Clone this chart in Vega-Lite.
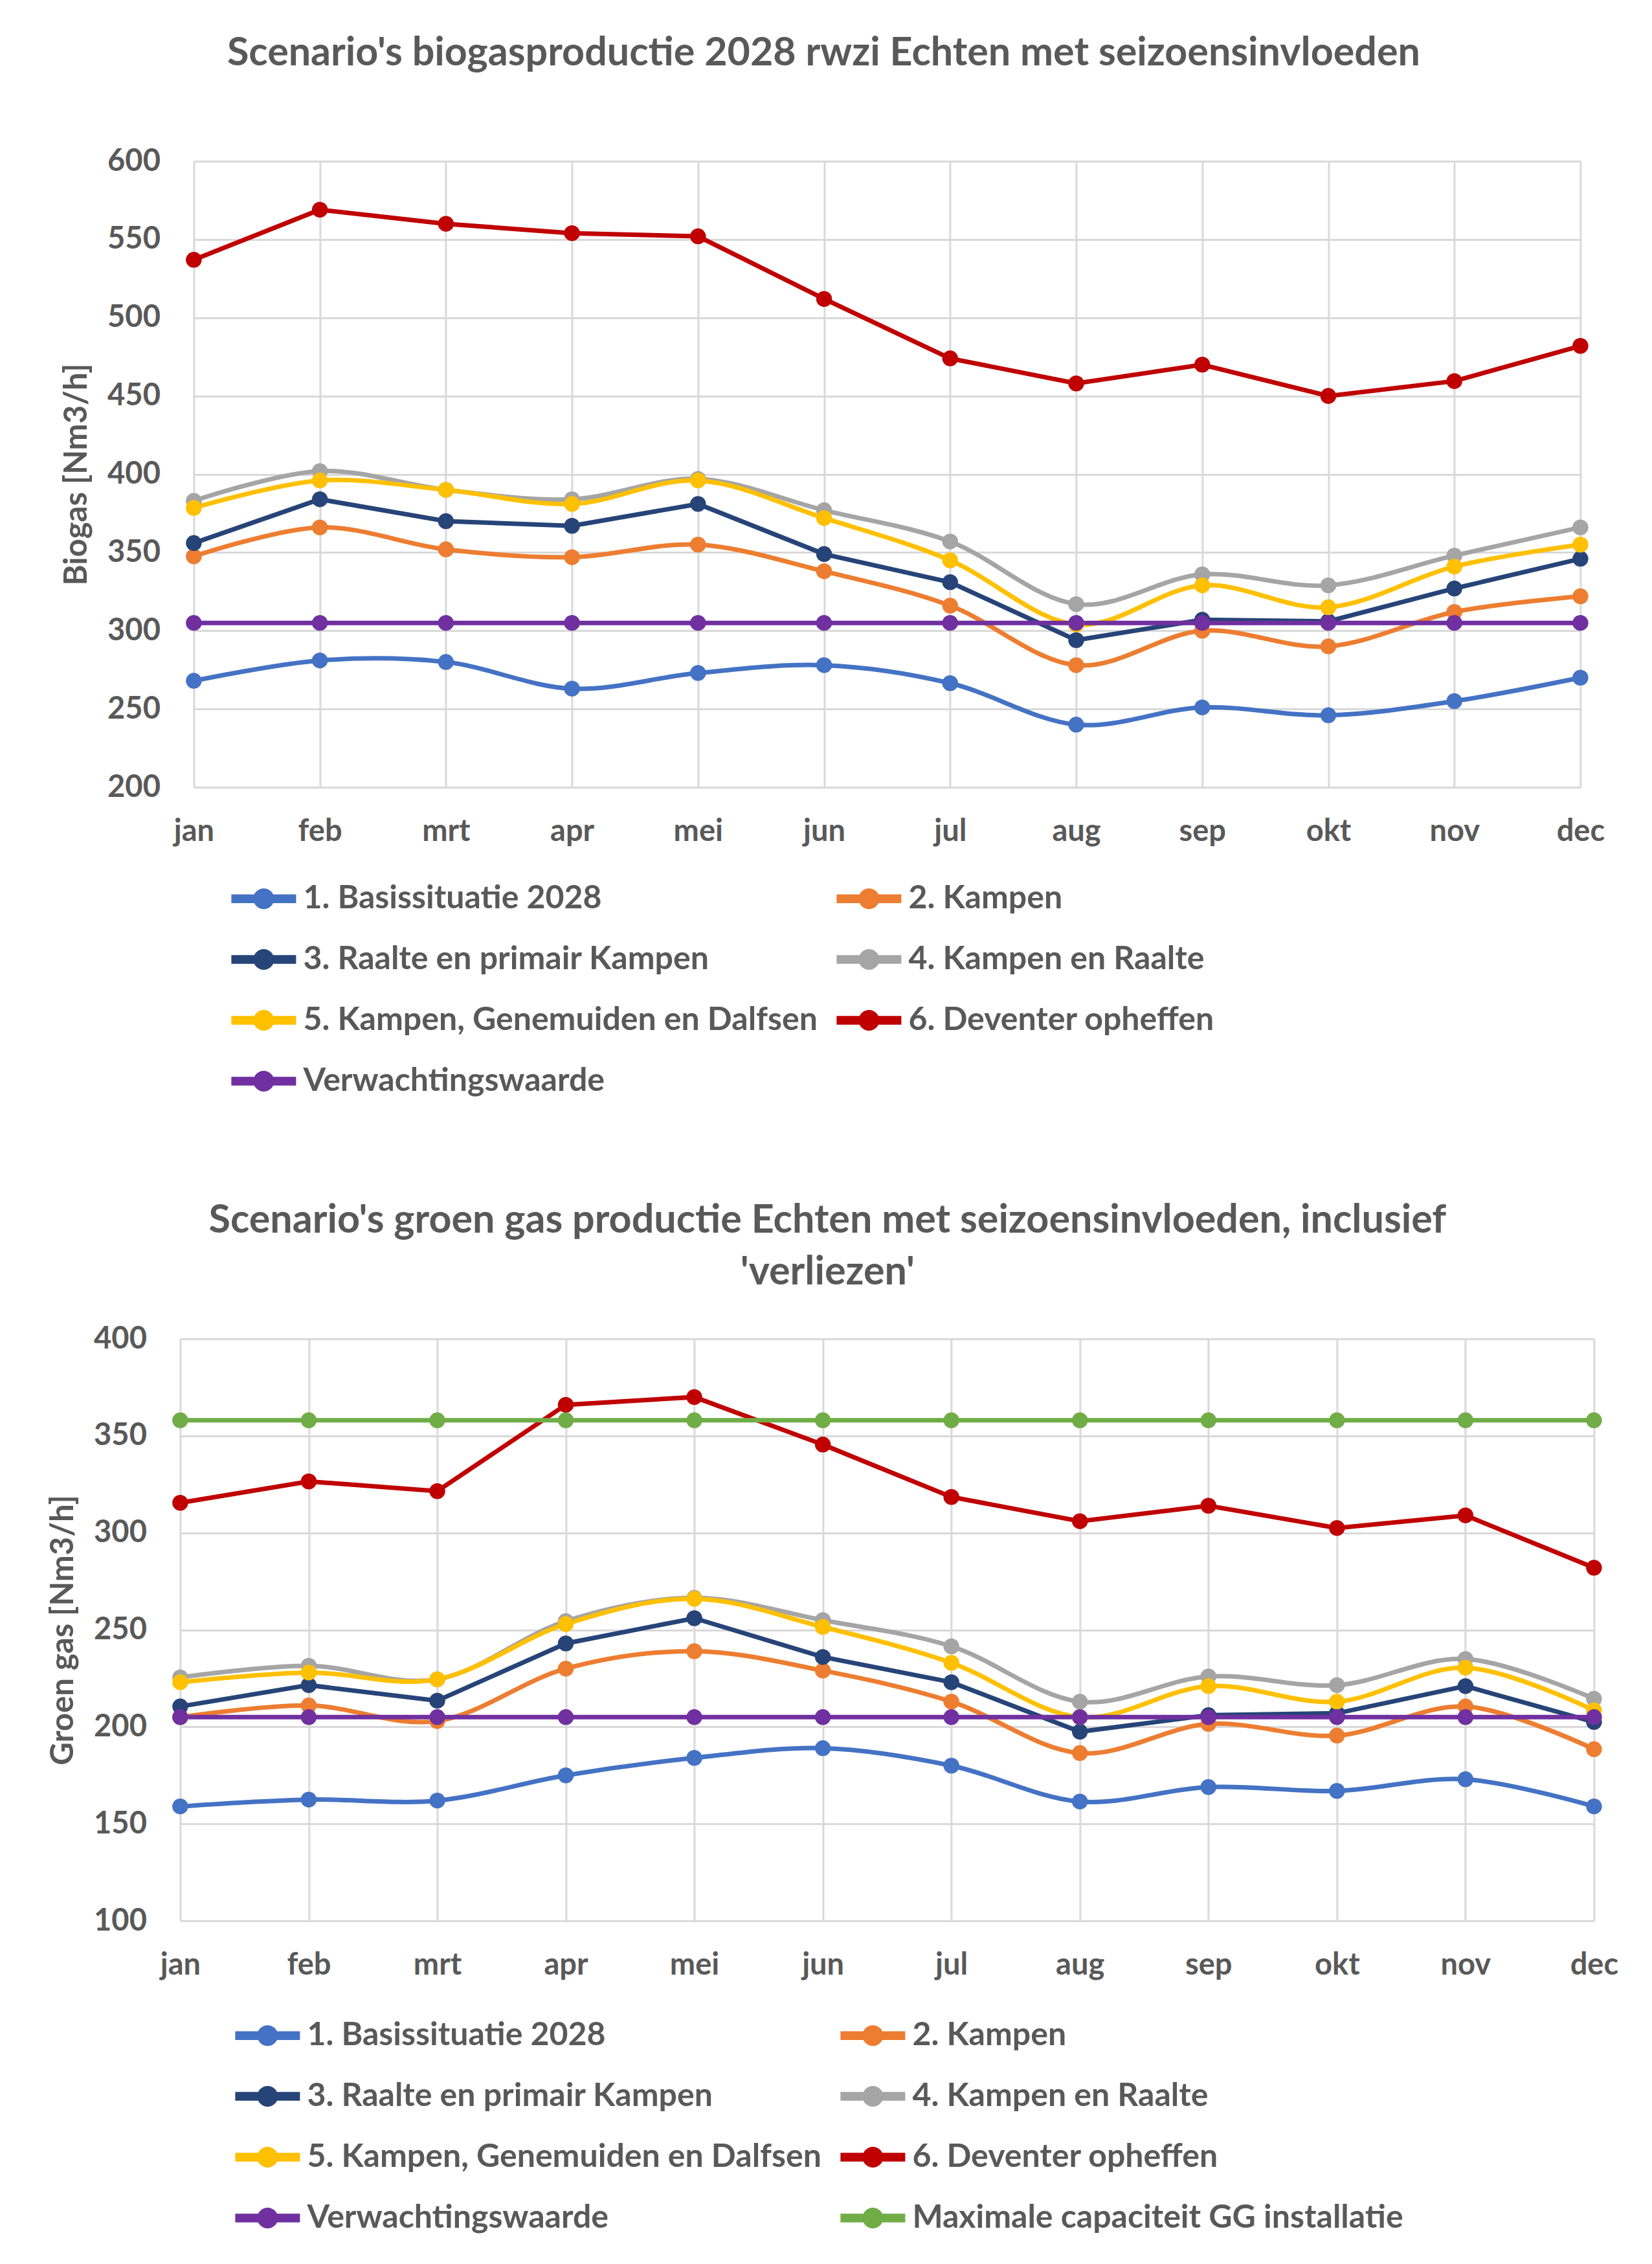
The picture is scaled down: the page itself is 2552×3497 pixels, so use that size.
{
  "$schema": "https://vega.github.io/schema/vega-lite/v6.json",
  "background": "white",
  "padding": {"left": 73, "top": 52, "right": 0, "bottom": 0},
  "spacing": 158,
  "center": true,
  "resolve": {"scale": {"color": "independent", "x": "independent", "y": "independent"}, "legend": {"color": "independent"}},
  "datasets": {
    "bio": [
      {"maand":"jan","serie":"1. Basissituatie 2028","waarde":268},{"maand":"feb","serie":"1. Basissituatie 2028","waarde":281},{"maand":"mrt","serie":"1. Basissituatie 2028","waarde":280},{"maand":"apr","serie":"1. Basissituatie 2028","waarde":263},{"maand":"mei","serie":"1. Basissituatie 2028","waarde":273},{"maand":"jun","serie":"1. Basissituatie 2028","waarde":278},{"maand":"jul","serie":"1. Basissituatie 2028","waarde":266.5},{"maand":"aug","serie":"1. Basissituatie 2028","waarde":240},{"maand":"sep","serie":"1. Basissituatie 2028","waarde":251},{"maand":"okt","serie":"1. Basissituatie 2028","waarde":246},{"maand":"nov","serie":"1. Basissituatie 2028","waarde":255},{"maand":"dec","serie":"1. Basissituatie 2028","waarde":270},
      {"maand":"jan","serie":"2. Kampen","waarde":347.5},{"maand":"feb","serie":"2. Kampen","waarde":366},{"maand":"mrt","serie":"2. Kampen","waarde":352},{"maand":"apr","serie":"2. Kampen","waarde":347},{"maand":"mei","serie":"2. Kampen","waarde":355},{"maand":"jun","serie":"2. Kampen","waarde":338},{"maand":"jul","serie":"2. Kampen","waarde":316},{"maand":"aug","serie":"2. Kampen","waarde":278},{"maand":"sep","serie":"2. Kampen","waarde":300},{"maand":"okt","serie":"2. Kampen","waarde":290},{"maand":"nov","serie":"2. Kampen","waarde":312},{"maand":"dec","serie":"2. Kampen","waarde":322},
      {"maand":"jan","serie":"3. Raalte en primair Kampen","waarde":356},{"maand":"feb","serie":"3. Raalte en primair Kampen","waarde":384},{"maand":"mrt","serie":"3. Raalte en primair Kampen","waarde":370},{"maand":"apr","serie":"3. Raalte en primair Kampen","waarde":367},{"maand":"mei","serie":"3. Raalte en primair Kampen","waarde":381},{"maand":"jun","serie":"3. Raalte en primair Kampen","waarde":349},{"maand":"jul","serie":"3. Raalte en primair Kampen","waarde":331},{"maand":"aug","serie":"3. Raalte en primair Kampen","waarde":294},{"maand":"sep","serie":"3. Raalte en primair Kampen","waarde":307},{"maand":"okt","serie":"3. Raalte en primair Kampen","waarde":306},{"maand":"nov","serie":"3. Raalte en primair Kampen","waarde":327},{"maand":"dec","serie":"3. Raalte en primair Kampen","waarde":346},
      {"maand":"jan","serie":"4. Kampen en Raalte","waarde":383},{"maand":"feb","serie":"4. Kampen en Raalte","waarde":402},{"maand":"mrt","serie":"4. Kampen en Raalte","waarde":390},{"maand":"apr","serie":"4. Kampen en Raalte","waarde":384},{"maand":"mei","serie":"4. Kampen en Raalte","waarde":397},{"maand":"jun","serie":"4. Kampen en Raalte","waarde":377},{"maand":"jul","serie":"4. Kampen en Raalte","waarde":357},{"maand":"aug","serie":"4. Kampen en Raalte","waarde":317},{"maand":"sep","serie":"4. Kampen en Raalte","waarde":336},{"maand":"okt","serie":"4. Kampen en Raalte","waarde":329},{"maand":"nov","serie":"4. Kampen en Raalte","waarde":348},{"maand":"dec","serie":"4. Kampen en Raalte","waarde":366},
      {"maand":"jan","serie":"5. Kampen, Genemuiden en Dalfsen","waarde":378.5},{"maand":"feb","serie":"5. Kampen, Genemuiden en Dalfsen","waarde":396},{"maand":"mrt","serie":"5. Kampen, Genemuiden en Dalfsen","waarde":390},{"maand":"apr","serie":"5. Kampen, Genemuiden en Dalfsen","waarde":381},{"maand":"mei","serie":"5. Kampen, Genemuiden en Dalfsen","waarde":396},{"maand":"jun","serie":"5. Kampen, Genemuiden en Dalfsen","waarde":372},{"maand":"jul","serie":"5. Kampen, Genemuiden en Dalfsen","waarde":345},{"maand":"aug","serie":"5. Kampen, Genemuiden en Dalfsen","waarde":304},{"maand":"sep","serie":"5. Kampen, Genemuiden en Dalfsen","waarde":329},{"maand":"okt","serie":"5. Kampen, Genemuiden en Dalfsen","waarde":315},{"maand":"nov","serie":"5. Kampen, Genemuiden en Dalfsen","waarde":341},{"maand":"dec","serie":"5. Kampen, Genemuiden en Dalfsen","waarde":355},
      {"maand":"jan","serie":"6. Deventer opheffen","waarde":537},{"maand":"feb","serie":"6. Deventer opheffen","waarde":569},{"maand":"mrt","serie":"6. Deventer opheffen","waarde":560},{"maand":"apr","serie":"6. Deventer opheffen","waarde":554},{"maand":"mei","serie":"6. Deventer opheffen","waarde":552},{"maand":"jun","serie":"6. Deventer opheffen","waarde":512},{"maand":"jul","serie":"6. Deventer opheffen","waarde":474},{"maand":"aug","serie":"6. Deventer opheffen","waarde":458},{"maand":"sep","serie":"6. Deventer opheffen","waarde":470},{"maand":"okt","serie":"6. Deventer opheffen","waarde":450},{"maand":"nov","serie":"6. Deventer opheffen","waarde":459.5},{"maand":"dec","serie":"6. Deventer opheffen","waarde":482},
      {"maand":"jan","serie":"Verwachtingswaarde","waarde":305},{"maand":"feb","serie":"Verwachtingswaarde","waarde":305},{"maand":"mrt","serie":"Verwachtingswaarde","waarde":305},{"maand":"apr","serie":"Verwachtingswaarde","waarde":305},{"maand":"mei","serie":"Verwachtingswaarde","waarde":305},{"maand":"jun","serie":"Verwachtingswaarde","waarde":305},{"maand":"jul","serie":"Verwachtingswaarde","waarde":305},{"maand":"aug","serie":"Verwachtingswaarde","waarde":305},{"maand":"sep","serie":"Verwachtingswaarde","waarde":305},{"maand":"okt","serie":"Verwachtingswaarde","waarde":305},{"maand":"nov","serie":"Verwachtingswaarde","waarde":305},{"maand":"dec","serie":"Verwachtingswaarde","waarde":305}
    ],
    "gg": [
      {"maand":"jan","serie":"1. Basissituatie 2028","waarde":159},{"maand":"feb","serie":"1. Basissituatie 2028","waarde":162.5},{"maand":"mrt","serie":"1. Basissituatie 2028","waarde":162},{"maand":"apr","serie":"1. Basissituatie 2028","waarde":175},{"maand":"mei","serie":"1. Basissituatie 2028","waarde":184},{"maand":"jun","serie":"1. Basissituatie 2028","waarde":189},{"maand":"jul","serie":"1. Basissituatie 2028","waarde":180},{"maand":"aug","serie":"1. Basissituatie 2028","waarde":161.5},{"maand":"sep","serie":"1. Basissituatie 2028","waarde":169},{"maand":"okt","serie":"1. Basissituatie 2028","waarde":167},{"maand":"nov","serie":"1. Basissituatie 2028","waarde":173},{"maand":"dec","serie":"1. Basissituatie 2028","waarde":159},
      {"maand":"jan","serie":"2. Kampen","waarde":205},{"maand":"feb","serie":"2. Kampen","waarde":211},{"maand":"mrt","serie":"2. Kampen","waarde":203},{"maand":"apr","serie":"2. Kampen","waarde":230},{"maand":"mei","serie":"2. Kampen","waarde":239},{"maand":"jun","serie":"2. Kampen","waarde":229},{"maand":"jul","serie":"2. Kampen","waarde":213},{"maand":"aug","serie":"2. Kampen","waarde":186.5},{"maand":"sep","serie":"2. Kampen","waarde":201.5},{"maand":"okt","serie":"2. Kampen","waarde":195.5},{"maand":"nov","serie":"2. Kampen","waarde":210.5},{"maand":"dec","serie":"2. Kampen","waarde":188.5},
      {"maand":"jan","serie":"3. Raalte en primair Kampen","waarde":210.5},{"maand":"feb","serie":"3. Raalte en primair Kampen","waarde":221.5},{"maand":"mrt","serie":"3. Raalte en primair Kampen","waarde":213.5},{"maand":"apr","serie":"3. Raalte en primair Kampen","waarde":243},{"maand":"mei","serie":"3. Raalte en primair Kampen","waarde":256},{"maand":"jun","serie":"3. Raalte en primair Kampen","waarde":236},{"maand":"jul","serie":"3. Raalte en primair Kampen","waarde":223},{"maand":"aug","serie":"3. Raalte en primair Kampen","waarde":197.5},{"maand":"sep","serie":"3. Raalte en primair Kampen","waarde":206},{"maand":"okt","serie":"3. Raalte en primair Kampen","waarde":207},{"maand":"nov","serie":"3. Raalte en primair Kampen","waarde":221},{"maand":"dec","serie":"3. Raalte en primair Kampen","waarde":202.5},
      {"maand":"jan","serie":"4. Kampen en Raalte","waarde":225.5},{"maand":"feb","serie":"4. Kampen en Raalte","waarde":231.5},{"maand":"mrt","serie":"4. Kampen en Raalte","waarde":224.5},{"maand":"apr","serie":"4. Kampen en Raalte","waarde":254.5},{"maand":"mei","serie":"4. Kampen en Raalte","waarde":266.5},{"maand":"jun","serie":"4. Kampen en Raalte","waarde":255},{"maand":"jul","serie":"4. Kampen en Raalte","waarde":241.5},{"maand":"aug","serie":"4. Kampen en Raalte","waarde":213},{"maand":"sep","serie":"4. Kampen en Raalte","waarde":226},{"maand":"okt","serie":"4. Kampen en Raalte","waarde":221.5},{"maand":"nov","serie":"4. Kampen en Raalte","waarde":235},{"maand":"dec","serie":"4. Kampen en Raalte","waarde":214.5},
      {"maand":"jan","serie":"5. Kampen, Genemuiden en Dalfsen","waarde":223},{"maand":"feb","serie":"5. Kampen, Genemuiden en Dalfsen","waarde":228},{"maand":"mrt","serie":"5. Kampen, Genemuiden en Dalfsen","waarde":224.5},{"maand":"apr","serie":"5. Kampen, Genemuiden en Dalfsen","waarde":253},{"maand":"mei","serie":"5. Kampen, Genemuiden en Dalfsen","waarde":266},{"maand":"jun","serie":"5. Kampen, Genemuiden en Dalfsen","waarde":251.5},{"maand":"jul","serie":"5. Kampen, Genemuiden en Dalfsen","waarde":233},{"maand":"aug","serie":"5. Kampen, Genemuiden en Dalfsen","waarde":205},{"maand":"sep","serie":"5. Kampen, Genemuiden en Dalfsen","waarde":221},{"maand":"okt","serie":"5. Kampen, Genemuiden en Dalfsen","waarde":213},{"maand":"nov","serie":"5. Kampen, Genemuiden en Dalfsen","waarde":230.5},{"maand":"dec","serie":"5. Kampen, Genemuiden en Dalfsen","waarde":208.5},
      {"maand":"jan","serie":"6. Deventer opheffen","waarde":315.5},{"maand":"feb","serie":"6. Deventer opheffen","waarde":326.5},{"maand":"mrt","serie":"6. Deventer opheffen","waarde":321.5},{"maand":"apr","serie":"6. Deventer opheffen","waarde":366},{"maand":"mei","serie":"6. Deventer opheffen","waarde":370},{"maand":"jun","serie":"6. Deventer opheffen","waarde":345.5},{"maand":"jul","serie":"6. Deventer opheffen","waarde":318.5},{"maand":"aug","serie":"6. Deventer opheffen","waarde":306},{"maand":"sep","serie":"6. Deventer opheffen","waarde":314},{"maand":"okt","serie":"6. Deventer opheffen","waarde":302.5},{"maand":"nov","serie":"6. Deventer opheffen","waarde":309},{"maand":"dec","serie":"6. Deventer opheffen","waarde":282},
      {"maand":"jan","serie":"Verwachtingswaarde","waarde":205},{"maand":"feb","serie":"Verwachtingswaarde","waarde":205},{"maand":"mrt","serie":"Verwachtingswaarde","waarde":205},{"maand":"apr","serie":"Verwachtingswaarde","waarde":205},{"maand":"mei","serie":"Verwachtingswaarde","waarde":205},{"maand":"jun","serie":"Verwachtingswaarde","waarde":205},{"maand":"jul","serie":"Verwachtingswaarde","waarde":205},{"maand":"aug","serie":"Verwachtingswaarde","waarde":205},{"maand":"sep","serie":"Verwachtingswaarde","waarde":205},{"maand":"okt","serie":"Verwachtingswaarde","waarde":205},{"maand":"nov","serie":"Verwachtingswaarde","waarde":205},{"maand":"dec","serie":"Verwachtingswaarde","waarde":205},
      {"maand":"jan","serie":"Maximale capaciteit GG installatie","waarde":358},{"maand":"feb","serie":"Maximale capaciteit GG installatie","waarde":358},{"maand":"mrt","serie":"Maximale capaciteit GG installatie","waarde":358},{"maand":"apr","serie":"Maximale capaciteit GG installatie","waarde":358},{"maand":"mei","serie":"Maximale capaciteit GG installatie","waarde":358},{"maand":"jun","serie":"Maximale capaciteit GG installatie","waarde":358},{"maand":"jul","serie":"Maximale capaciteit GG installatie","waarde":358},{"maand":"aug","serie":"Maximale capaciteit GG installatie","waarde":358},{"maand":"sep","serie":"Maximale capaciteit GG installatie","waarde":358},{"maand":"okt","serie":"Maximale capaciteit GG installatie","waarde":358},{"maand":"nov","serie":"Maximale capaciteit GG installatie","waarde":358},{"maand":"dec","serie":"Maximale capaciteit GG installatie","waarde":358}
    ]
  },
  "vconcat": [
    {
      "data": {"name": "bio"},
      "width": 2142,
      "height": 967,
      "title": {"text": "Scenario's biogasproductie 2028 rwzi Echten met seizoensinvloeden", "dx": -98, "offset": 111},
      "encoding": {
        "x": {"field": "maand", "type": "nominal", "sort": ["jan","feb","mrt","apr","mei","jun","jul","aug","sep","okt","nov","dec"], "scale": {"type": "point", "padding": 0}, "axis": {"title": null, "labelAngle": 0, "labelPadding": 45, "grid": true}},
        "y": {"field": "waarde", "type": "quantitative", "scale": {"domain": [200, 600], "nice": false, "zero": false}, "axis": {"title": "Biogas [Nm3/h]", "values": [200,250,300,350,400,450,500,550,600], "labelPadding": 52, "titlePadding": 22, "domain": false, "grid": true}},
        "color": {"field": "serie", "type": "nominal",
          "scale": {"domain": ["1. Basissituatie 2028","2. Kampen","3. Raalte en primair Kampen","4. Kampen en Raalte","5. Kampen, Genemuiden en Dalfsen","6. Deventer opheffen","Verwachtingswaarde"], "range": ["#4472C4","#ED7D31","#264478","#A5A5A5","#FFC000","#C00000","#7030A0"]},
          "legend": {"orient": "none", "direction": "horizontal", "legendX": 58, "legendY": 1089}}
      },
      "layer": [
        {"transform": [{"filter": {"field": "serie", "oneOf": ["1. Basissituatie 2028","2. Kampen"]}}], "mark": {"type": "line", "interpolate": "cardinal"}, "encoding": {}},
        {"transform": [{"filter": {"field": "serie", "oneOf": ["3. Raalte en primair Kampen"]}}], "mark": {"type": "line", "interpolate": "linear"}, "encoding": {}},
        {"transform": [{"filter": {"field": "serie", "oneOf": ["4. Kampen en Raalte","5. Kampen, Genemuiden en Dalfsen"]}}], "mark": {"type": "line", "interpolate": "cardinal"}, "encoding": {}},
        {"transform": [{"filter": {"field": "serie", "oneOf": ["6. Deventer opheffen","Verwachtingswaarde"]}}], "mark": {"type": "line", "interpolate": "linear"}, "encoding": {}},
        {"mark": {"type": "point", "filled": true, "size": 600, "opacity": 1}}
      ]
    },
    {
      "data": {"name": "gg"},
      "width": 2184,
      "height": 899,
      "title": {"text": ["Scenario's groen gas productie Echten met seizoensinvloeden, inclusief", "'verliezen'"], "dx": -92, "offset": 47, "lineHeight": 80},
      "encoding": {
        "x": {"field": "maand", "type": "nominal", "sort": ["jan","feb","mrt","apr","mei","jun","jul","aug","sep","okt","nov","dec"], "scale": {"type": "point", "padding": 0}, "axis": {"title": null, "labelAngle": 0, "labelPadding": 45, "grid": true}},
        "y": {"field": "waarde", "type": "quantitative", "scale": {"domain": [100, 400], "nice": false, "zero": false}, "axis": {"title": "Groen gas [Nm3/h]", "values": [100,150,200,250,300,350,400], "labelPadding": 52, "titlePadding": 22, "domain": false, "grid": true}},
        "color": {"field": "serie", "type": "nominal",
          "scale": {"domain": ["1. Basissituatie 2028","2. Kampen","3. Raalte en primair Kampen","4. Kampen en Raalte","5. Kampen, Genemuiden en Dalfsen","6. Deventer opheffen","Verwachtingswaarde","Maximale capaciteit GG installatie"], "range": ["#4472C4","#ED7D31","#264478","#A5A5A5","#FFC000","#C00000","#7030A0","#70AD47"]},
          "legend": {"orient": "none", "direction": "horizontal", "legendX": 85, "legendY": 1026}}
      },
      "layer": [
        {"transform": [{"filter": {"field": "serie", "oneOf": ["1. Basissituatie 2028","2. Kampen"]}}], "mark": {"type": "line", "interpolate": "cardinal"}, "encoding": {}},
        {"transform": [{"filter": {"field": "serie", "oneOf": ["3. Raalte en primair Kampen"]}}], "mark": {"type": "line", "interpolate": "linear"}, "encoding": {}},
        {"transform": [{"filter": {"field": "serie", "oneOf": ["4. Kampen en Raalte","5. Kampen, Genemuiden en Dalfsen"]}}], "mark": {"type": "line", "interpolate": "cardinal"}, "encoding": {}},
        {"transform": [{"filter": {"field": "serie", "oneOf": ["6. Deventer opheffen","Verwachtingswaarde","Maximale capaciteit GG installatie"]}}], "mark": {"type": "line", "interpolate": "linear"}, "encoding": {}},
        {"mark": {"type": "point", "filled": true, "size": 600, "opacity": 1}}
      ]
    }
  ],
  "config": {
    "font": "Lato",
    "view": {"stroke": null},
    "line": {"strokeWidth": 7},
    "axis": {"labelFont": "Lato", "labelFontSize": 47, "labelFontWeight": "bold", "labelColor": "#595959", "titleFont": "Lato", "titleFontSize": 49, "titleFontWeight": "bold", "titleColor": "#595959", "gridColor": "#D9D9D9", "gridWidth": 3, "domainColor": "#D9D9D9", "domainWidth": 3, "ticks": false},
    "legend": {"title": null, "columns": 2, "columnPadding": 18, "rowPadding": 17, "padding": 0, "labelFont": "Lato", "labelFontSize": 50, "labelFontWeight": "bold", "labelColor": "#595959", "labelLimit": 3000, "labelOffset": 11, "symbolType": "M-1,-0.07L1,-0.07L1,0.07L-1,0.07Z M-0.27,0A0.27,0.27 0 1,1 0.27,0A0.27,0.27 0 1,1 -0.27,0Z", "symbolSize": 8649, "symbolStrokeWidth": 0, "symbolOpacity": 1},
    "title": {"font": "Lato", "fontSize": 61, "fontWeight": "bold", "color": "#595959", "anchor": "middle", "frame": "group"}
  }
}
